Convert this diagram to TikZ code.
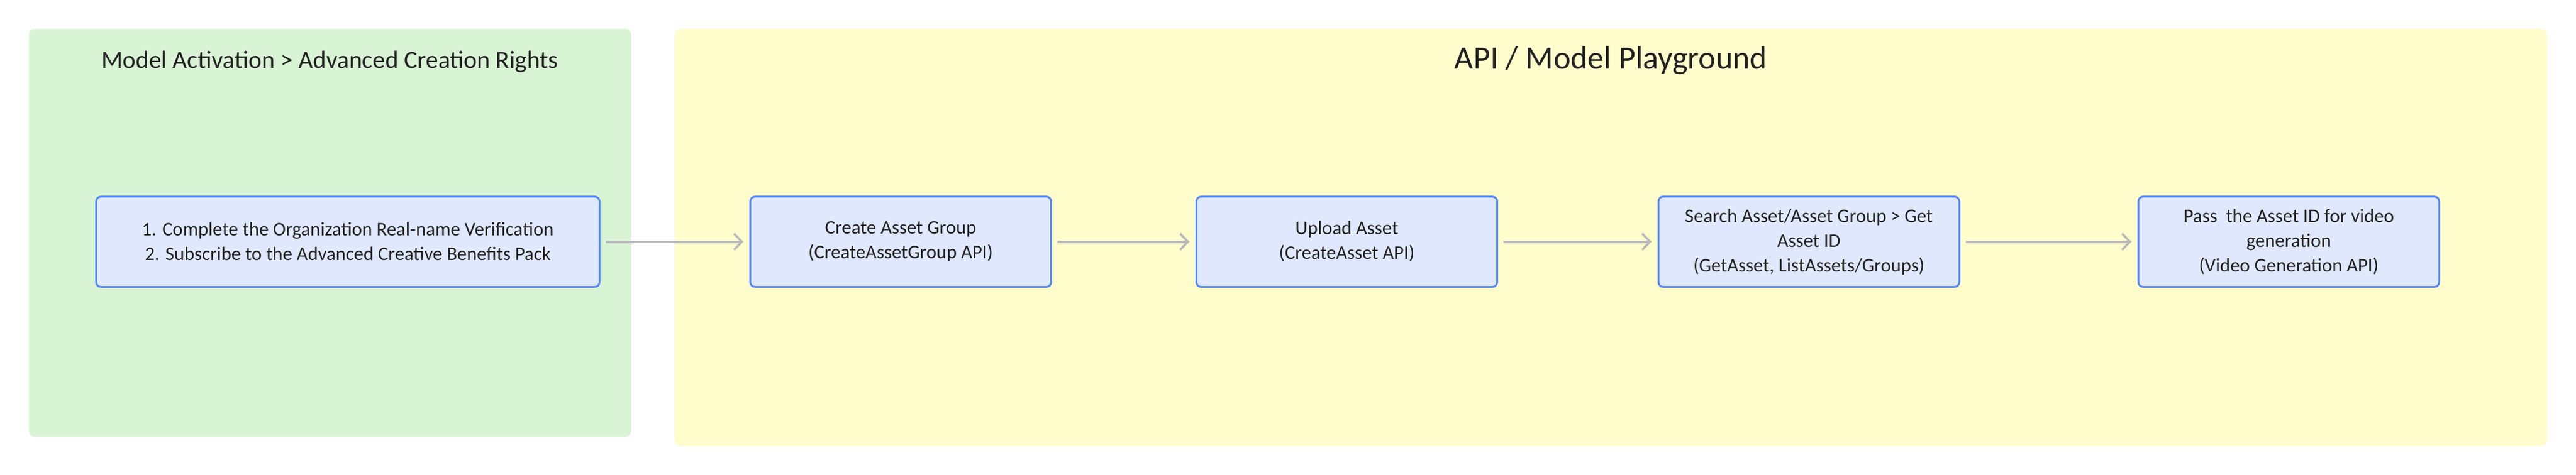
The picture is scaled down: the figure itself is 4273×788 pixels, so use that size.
\documentclass[tikz,border=0pt]{standalone}
\usepackage{fontspec}
\setmainfont{Carlito}
\usetikzlibrary{arrows.meta}
\definecolor{greenbg}{RGB}{217,243,213}
\definecolor{yellowbg}{RGB}{255,253,204}
\definecolor{stepfill}{RGB}{224,232,253}
\definecolor{stepline}{RGB}{82,135,246}
\definecolor{arrowgray}{RGB}{184,184,186}
\definecolor{titletext}{RGB}{34,34,34}
\tikzset{
  container/.style={rounded corners=10pt, draw=none, inner sep=0pt},
  stepbox/.style={rectangle, rounded corners=8pt, draw=stepline, fill=stepfill,
    line width=3pt, minimum width=499pt, minimum height=150pt, inner sep=0pt,
    align=center, text=titletext, font=\fontsize{32}{41}\selectfont},
  grouptitle/.style={inner sep=0pt, text=titletext},
  flow/.style={draw=arrowgray, line width=4pt,
    -{Straight Barb[length=13pt,width=27pt,line width=3.5pt]},
    shorten <=9pt, shorten >=10pt}
}
\begin{document}
\begin{tikzpicture}[x=1pt,y=-1pt]
\useasboundingbox[fill=white] (0,0) rectangle (4273,788);
% containers
\node[container, fill=greenbg, minimum width=999pt, minimum height=678pt] (gA) at (547.5,387) {};
\node[container, fill=yellowbg, minimum width=3106pt, minimum height=693pt] (gB) at (2672,394.5) {};
% titles
\node[grouptitle, font=\fontsize{41.5}{50}\selectfont] (tA) at (547,103) {Model Activation > Advanced Creation Rights};
\node[grouptitle, font=\fontsize{54}{60}\selectfont] (tB) at (2672,100) {API / Model Playground};
% steps
\node[stepbox, minimum width=835pt] (s1) at (577,401.5) {1. Complete the Organization Real-name Verification\\2. Subscribe to the Advanced Creative Benefits Pack};
\node[stepbox] (s2) at (1494,401.5) {Create Asset Group\\(CreateAssetGroup API)};
\node[stepbox] (s3) at (2234,401.5) {Upload Asset\\(CreateAsset API)};
\node[stepbox] (s4) at (3000.5,401.5) {Search Asset/Asset Group > Get\\Asset ID\\(GetAsset, ListAssets/Groups)};
\node[stepbox] (s5) at (3796.5,401.5) {Pass\ \ the Asset ID for video\\generation\\(Video Generation API)};
% connectors
\draw[flow] (s1) -- (s2);
\draw[flow] (s2) -- (s3);
\draw[flow] (s3) -- (s4);
\draw[flow] (s4) -- (s5);
\end{tikzpicture}
\end{document}
